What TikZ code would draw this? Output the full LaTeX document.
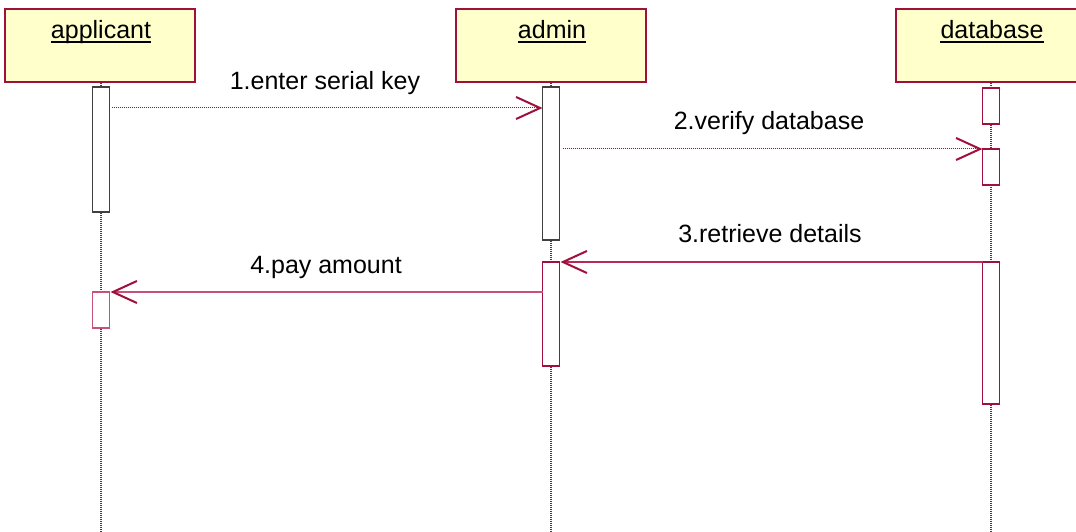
\documentclass[tikz,border=0pt]{standalone}
\usepackage{fontspec}
\setmainfont{Liberation Sans}
\usetikzlibrary{arrows.meta}
\definecolor{crim}{HTML}{A0103C}
\definecolor{crimmid}{HTML}{B8285A}
\definecolor{pinkl}{HTML}{C8507A}
\definecolor{boxfill}{HTML}{FFFFCC}
\definecolor{lifegray}{HTML}{404040}
\begin{document}
\begin{tikzpicture}[x=1pt,y=-1pt,
  objbox/.style={draw=crim, fill=boxfill, line width=1.3pt, minimum width=190pt, minimum height=73pt, inner sep=0pt},
  objtxt/.style={font=\fontsize{25}{30}\selectfont, inner sep=0pt, anchor=base},
  msgtxt/.style={font=\fontsize{25}{30}\selectfont, inner sep=0pt, anchor=base},
  uline/.style={line width=1.4pt, black},
  life/.style={draw=lifegray, line width=1.1pt, dash pattern=on 1pt off 1pt},
  actblack/.style={draw=lifegray, fill=white, line width=1.3pt, minimum width=17pt, inner sep=0pt, outer sep=0pt},
  actred/.style={draw=crim, fill=white, line width=1.3pt, minimum width=17pt, inner sep=0pt, outer sep=0pt},
  actpink/.style={draw=pinkl, fill=white, line width=1.3pt, minimum width=17pt, inner sep=0pt, outer sep=0pt},
  tip/.style={-{Straight Barb[length=24pt,width=22pt,line width=2pt,color=crim]}},
  msgdot/.style={tip, draw=crim, line width=1pt, dash pattern=on 1pt off 1pt},
  msgsolid/.style={tip, draw=crimmid, line width=1.2pt},
  msgpink/.style={tip, draw=pinkl, line width=1.2pt}
]
\clip (0,0) rectangle (1076,532);
\useasboundingbox (0,0) rectangle (1076,532);

% header boxes
\node[objbox] (appbox) at (100,45.5) {};
\node[objbox] (admbox) at (551,45.5) {};
\node[objbox] (dbbox) at (991,45.5) {};

\node[objtxt] (apptxt) at (101,39) {applicant};
\node[objtxt] (admtxt) at (552,39) {admin};
\node[objtxt] (dbtxt) at (992,39) {database};
\draw[uline] ([yshift=-3pt]apptxt.base west) -- ([yshift=-3pt]apptxt.base east);
\draw[uline] ([yshift=-3pt]admtxt.base west) -- ([yshift=-3pt]admtxt.base east);
\draw[uline] ([yshift=-3pt]dbtxt.base west) -- ([yshift=-3pt]dbtxt.base east);

% lifeline ends
\coordinate (append) at (101,532);
\coordinate (admend) at (551,532);
\coordinate (dbend) at (991,532);
\draw[life] (appbox.south -| append) -- (append);
\draw[life] (admbox.south -| admend) -- (admend);
\draw[life] (dbbox.south -| dbend) -- (dbend);

% activations
\node[actblack, minimum height=125pt] (a1) at (101,149.5) {};
\node[actpink, minimum height=36pt] (a2) at (101,310) {};
\node[actblack, minimum height=153pt] (m1) at (551,163.5) {};
\node[actred, minimum height=104pt] (m2) at (551,314) {};
\node[actred, minimum height=36pt] (d1) at (991,106) {};
\node[actred, minimum height=36pt] (d2) at (991,167) {};
\node[actred, minimum height=142pt] (d3) at (991,333) {};

% message levels
\coordinate (y1) at (0,108);
\coordinate (y2) at (0,149);
\coordinate (y3) at (0,262);
\coordinate (y4) at (0,292);

\draw[msgdot] ([xshift=2pt]a1.east |- y1) -- (m1.west |- y1);
\draw[msgdot] ([xshift=3pt]m1.east |- y2) -- (d2.west |- y2);
\draw[msgsolid] (d3.west |- y3) -- ([xshift=1pt]m2.east |- y3);
\draw[msgpink] (m2.west |- y4) -- ([xshift=1pt]a2.east |- y4);

% labels
\node[msgtxt] (l1) at (325,90) {1.enter serial key};
\node[msgtxt] (l2) at (769,130) {2.verify database};
\node[msgtxt] (l3) at (770,242) {3.retrieve details};
\node[msgtxt] (l4) at (326,273) {4.pay amount};
\end{tikzpicture}
\end{document}
